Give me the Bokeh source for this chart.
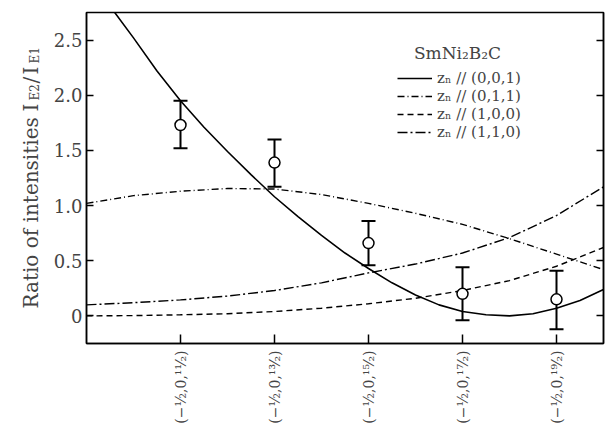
from math import pi
from bokeh.plotting import figure
from bokeh.layouts import row
from bokeh.models import (ColumnDataSource, Whisker, TeeHead, Legend, LegendItem,
                          Label, LinearAxis, FixedTicker, Range1d)
from bokeh.embed import file_html
from bokeh.resources import INLINE

# ---- data -------------------------------------------------------------
tick_pos = [1, 2, 3, 4, 5]
tick_labels = ["(−½,0,¹¹⁄₂)", "(−½,0,¹³⁄₂)", "(−½,0,¹⁵⁄₂)",
               "(−½,0,¹⁷⁄₂)", "(−½,0,¹⁹⁄₂)"]
y_ticks = [0, 0.5, 1.0, 1.5, 2.0, 2.5]
y_tick_labels = ["0", "0.5", "1.0", "1.5", "2.0", "2.5"]

obs_x = [1, 2, 3, 4, 5]
obs_y = [1.73, 1.39, 0.66, 0.20, 0.15]
obs_lo = [1.52, 1.17, 0.46, -0.04, -0.12]
obs_hi = [1.95, 1.60, 0.86, 0.44, 0.41]

x001 = [0.3, 0.5, 0.75, 1.0, 1.25, 1.5, 1.75, 2.0, 2.25, 2.5, 2.75, 3.0,
        3.25, 3.5, 3.75, 4.0, 4.25, 4.5, 4.75, 5.0, 5.25, 5.5]
y001 = [2.75, 2.52, 2.22, 1.95, 1.71, 1.49, 1.28, 1.08, 0.90, 0.73, 0.57, 0.43,
        0.30, 0.19, 0.10, 0.04, 0.01, 0.0, 0.02, 0.07, 0.14, 0.24]

x_c = [0, 0.5, 1.0, 1.5, 2.0, 2.5, 3.0, 3.5, 4.0, 4.5, 5.0, 5.5]
y011 = [1.02, 1.09, 1.13, 1.155, 1.15, 1.10, 1.02, 0.93, 0.83, 0.70, 0.56, 0.42]
y100 = [0.0, 0.003, 0.01, 0.02, 0.04, 0.07, 0.11, 0.16, 0.23, 0.32, 0.45, 0.62]
y110 = [0.10, 0.12, 0.145, 0.18, 0.23, 0.30, 0.39, 0.47, 0.57, 0.71, 0.91, 1.17]

legend_labels = ["zₙ // (0,0,1)", "zₙ // (0,1,1)", "zₙ // (1,0,0)", "zₙ // (1,1,0)"]
legend_title = "SmNi₂B₂C"

FONT = "DejaVu Serif"

# ---- narrow panel holding the y-axis title (main text + subscripts) ------
lab = figure(width=45, height=427, output_backend="svg", toolbar_location=None,
             x_axis_location=None, y_axis_location=None, min_border=0,
             x_range=Range1d(0, 1), y_range=Range1d(0, 1))
lab.outline_line_color = None
lab.grid.visible = False
ylab = [("Ratio of intensities", 35, 30, "20px"),
        ("I", 232, 30, "20px"),
        ("E2", 243, 34, "12px"),
        ("/", 260, 30, "20px"),
        ("I", 269, 30, "20px"),
        ("E1", 280, 34, "12px")]
for txt, yy, xx, fs in ylab:
    lab.add_layout(Label(x=xx, y=yy, x_units="screen", y_units="screen", text=txt,
                         angle=pi / 2, text_font=FONT, text_font_size=fs,
                         text_align="left", text_baseline="alphabetic"))

# ---- main figure ------------------------------------------------------
p = figure(width=562, height=427, output_backend="svg", toolbar_location=None,
           x_range=Range1d(0, 5.5), y_range=Range1d(-0.25, 2.75),
           min_border_left=41, min_border_right=4, min_border_top=12,
           min_border_bottom=84)
p.background_fill_color = "white"
p.border_fill_color = "white"
p.outline_line_color = "black"
p.outline_line_width = 1.5
p.xgrid.visible = False
p.ygrid.visible = False

xa = p.xaxis[0]
xa.ticker = FixedTicker(ticks=tick_pos)
xa.major_label_overrides = {t: l for t, l in zip(tick_pos, tick_labels)}
xa.major_label_orientation = pi / 2
xa.major_label_text_font = FONT
xa.major_label_text_font_size = "14px"
xa.major_label_standoff = 7
xa.major_tick_in = 9
xa.major_tick_out = 0
xa.minor_tick_line_color = None
xa.axis_line_width = 1.5
xa.major_tick_line_width = 1.5

ya = p.yaxis[0]
ya.ticker = FixedTicker(ticks=y_ticks)
ya.major_label_overrides = {t: l for t, l in zip(y_ticks, y_tick_labels)}
ya.major_label_text_font = FONT
ya.major_label_text_font_size = "18px"
ya.major_label_standoff = 4
ya.major_tick_in = 7
ya.major_tick_out = 0
ya.minor_tick_line_color = None
ya.axis_line_width = 1.5
ya.major_tick_line_width = 1.5

# mirrored right axis: ticks only, labels not drawn
ra = LinearAxis(ticker=FixedTicker(ticks=y_ticks), major_tick_in=7, major_tick_out=0,
                minor_tick_line_color=None, major_label_text_font_size="1px",
                major_label_text_color=None,
                major_label_standoff=0, axis_line_width=1.5, major_tick_line_width=1.5)
p.add_layout(ra, "right")

r1 = p.line(x001, y001, line_color="black", line_width=1.6)
r2 = p.line(x_c, y011, line_color="black", line_width=1.4, line_dash="7 3 1 3")
r3 = p.line(x_c, y100, line_color="black", line_width=1.4, line_dash="6 4")
r4 = p.line(x_c, y110, line_color="black", line_width=1.4, line_dash="10 3 2 3")

src = ColumnDataSource(dict(x=obs_x, y=obs_y, lo=obs_lo, hi=obs_hi))
wh = Whisker(source=src, base="x", upper="hi", lower="lo", line_width=2,
             upper_head=TeeHead(size=14, line_width=2),
             lower_head=TeeHead(size=14, line_width=2), level="underlay")
p.add_layout(wh)
p.scatter("x", "y", source=src, marker="circle", size=11, fill_color="white",
          line_color="black", line_width=1.5)

legend = Legend(items=[LegendItem(label=l, renderers=[r]) for l, r in
                       zip(legend_labels, [r1, r2, r3, r4])],
                location=(311, 202), padding=0, margin=0, spacing=0,
                glyph_width=35, glyph_height=18, label_height=18,
                label_standoff=5, label_text_font=FONT,
                label_text_font_size="15px", border_line_alpha=0,
                background_fill_alpha=0)
p.add_layout(legend)

p.add_layout(Label(x=371, y=291, x_units="screen", y_units="screen",
                   text=legend_title, text_font=FONT, text_font_size="17px",
                   text_align="center", text_baseline="alphabetic"))

layout = row(lab, p)
open("out.html", "w").write(file_html(layout, INLINE))
